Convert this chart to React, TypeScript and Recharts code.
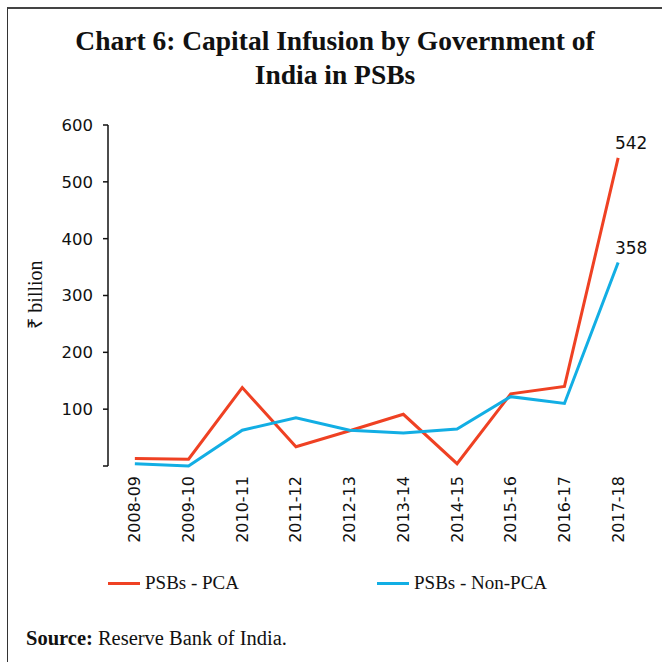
import React from 'react';
import { LineChart, Line, XAxis, YAxis, LabelList, Label } from 'recharts';

const categories = ['2008-09', '2009-10', '2010-11', '2011-12', '2012-13', '2013-14', '2014-15', '2015-16', '2016-17', '2017-18'];
const pcaValues = [13, 12, 138, 34, 62, 91, 4, 127, 140, 542];
const nonPcaValues = [4, 0, 63, 85, 63, 58, 65, 122, 110, 358];
const yTicks = [0, 100, 200, 300, 400, 500, 600];
const boundaryTicks = [0, 1, 2, 3, 4, 5, 6, 7, 8, 9, 10];
const centerTicks = categories.map((_, i) => i + 0.5);

const RED = '#EF4123';
const BLUE = '#12AEE4';
const SANS = '"DejaVu Sans", Verdana, sans-serif';
const SERIF = '"Liberation Serif", "Times New Roman", serif';

const series = [
  { key: 'pca', name: 'PSBs - PCA', color: RED },
  { key: 'nonPca', name: 'PSBs - Non-PCA', color: BLUE },
];

const data = categories.map((c, i) => ({ pos: i + 0.5, label: c, pca: pcaValues[i], nonPca: nonPcaValues[i] }));

const CatTick = (props: any) => {
  const { x, payload } = props;
  const idx = Math.round(payload.value - 0.5);
  const tx = x;
  const ty = 476;
  return (
    <text x={tx} y={ty} transform={`rotate(-90 ${tx} ${ty})`} textAnchor="end" dominantBaseline="central" fontFamily={SANS} fontSize={16} fill="#111">
      {categories[idx]}
    </text>
  );
};

const EndLabel = (props: any) => {
  const { x, y, index, value } = props;
  if (index !== categories.length - 1) return null;
  return (
    <text x={x + 13} y={y - 9} textAnchor="middle" fontFamily={SANS} fontSize={17} fill="#111">
      {value}
    </text>
  );
};

const YLabel = (props: any) => {
  const vb = props.viewBox || {};
  const cx = 35;
  const cy = (vb.y ?? 125) + (vb.height ?? 341) / 2 - 1;
  return (
    <text x={cx} y={cy} transform={`rotate(-90 ${cx} ${cy})`} textAnchor="middle" dominantBaseline="central" fontFamily={SERIF} fontSize={20} fill="#111">
      ₹ billion
    </text>
  );
};

export default function App() {
  return (
    <div style={{ position: 'absolute', left: 0, top: 0, width: 662, height: 662, background: '#fff', overflow: 'hidden' }}>
      <div style={{ position: 'absolute', left: 7, top: 7, width: 670, height: 670, borderLeft: '1.5px solid #333', borderTop: '2px solid #444' }} />
      <div style={{ position: 'absolute', left: 8, top: 24, width: 654, textAlign: 'center', fontFamily: SERIF, fontWeight: 'bold', fontSize: 27.5, lineHeight: '34px', color: '#111' }}>
        Chart 6: Capital Infusion by Government of<br />India in PSBs
      </div>
      <div style={{ position: 'absolute', left: 0, top: 0 }}>
        <LineChart width={662} height={662} data={data} margin={{ top: 125, right: 17, left: 0, bottom: 116 }}>
          <XAxis xAxisId="ticks" dataKey="pos" type="number" domain={[0, 10]} ticks={boundaryTicks} tick={false} tickSize={6} height={0} axisLine={{ stroke: '#111', strokeWidth: 1.5 }} tickLine={{ stroke: '#111', strokeWidth: 1.5 }} />
          <XAxis xAxisId="labels" dataKey="pos" type="number" domain={[0, 10]} ticks={centerTicks} tick={<CatTick />} tickLine={false} axisLine={false} height={80} interval={0} />
          <YAxis domain={[0, 600]} ticks={yTicks} width={108} tickSize={5} tickMargin={10} interval={0}
            tickFormatter={(v: number) => (v === 0 ? '' : String(v))}
            tick={{ fontFamily: SANS, fontSize: 16.5, fill: '#111' }}
            axisLine={{ stroke: '#111', strokeWidth: 1.5 }} tickLine={{ stroke: '#111', strokeWidth: 1.5 }}>
            <Label content={<YLabel />} />
          </YAxis>
          {series.map((s) => (
            <Line key={s.key} xAxisId="ticks" dataKey={s.key} name={s.name} stroke={s.color} strokeWidth={3} dot={false} isAnimationActive={false}>
              <LabelList dataKey={s.key} content={<EndLabel />} />
            </Line>
          ))}
        </LineChart>
      </div>
      <div style={{ position: 'absolute', left: 108, top: 572, display: 'flex', fontFamily: SERIF, fontSize: 19, color: '#111' }}>
        {series.map((s) => (
          <div key={s.key} style={{ display: 'flex', alignItems: 'center', width: 269 }}>
            <span style={{ display: 'inline-block', width: 32, height: 3, background: s.color, marginRight: 5 }} />
            <span>{s.name}</span>
          </div>
        ))}
      </div>
      <div style={{ position: 'absolute', left: 26, top: 627, fontFamily: SERIF, fontSize: 20.5, color: '#111' }}>
        <b>Source:</b> Reserve Bank of India.
      </div>
    </div>
  );
}
